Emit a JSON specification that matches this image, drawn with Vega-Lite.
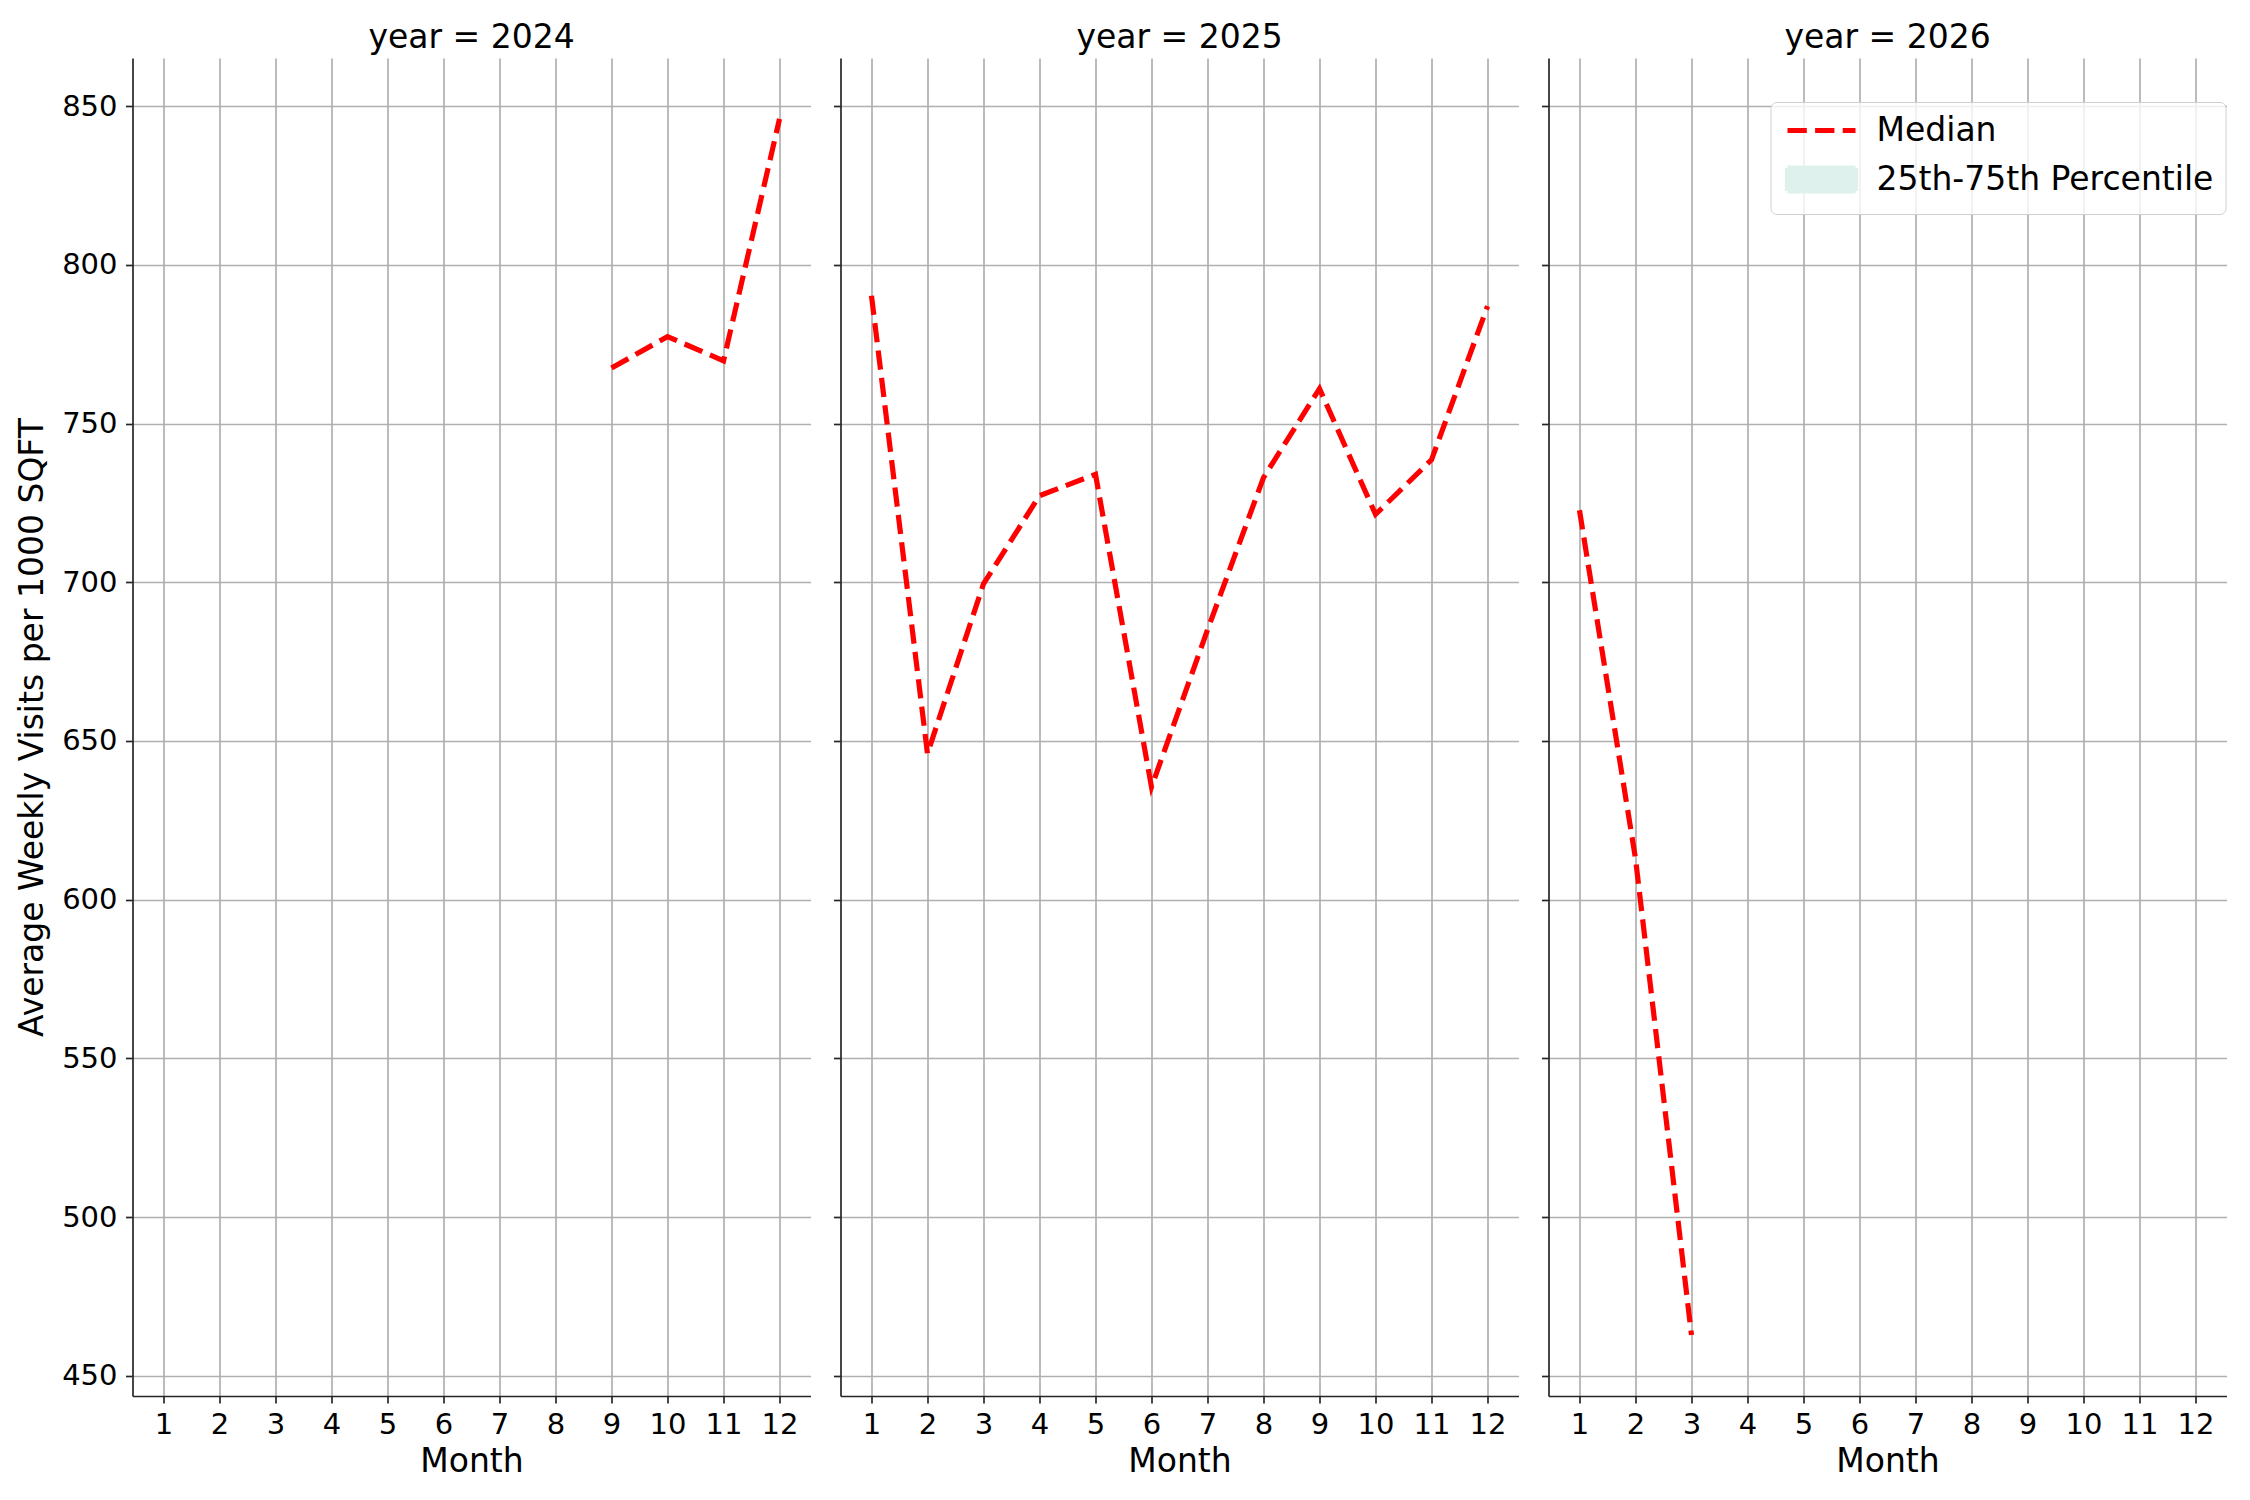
{
  "$schema": "https://vega.github.io/schema/vega-lite/v6.json",
  "background": "white",
  "padding": {"left": 16.5, "top": 22, "right": 5, "bottom": 5},
  "datasets": {
    "visits": [
      {"year": 2024, "month": 9, "median": 767.5},
      {"year": 2024, "month": 10, "median": 777.4},
      {"year": 2024, "month": 11, "median": 769.8},
      {"year": 2024, "month": 12, "median": 846.0},
      {"year": 2025, "month": 1, "median": 790.3},
      {"year": 2025, "month": 2, "median": 646.0},
      {"year": 2025, "month": 3, "median": 699.5},
      {"year": 2025, "month": 4, "median": 727.3},
      {"year": 2025, "month": 5, "median": 734.0},
      {"year": 2025, "month": 6, "median": 635.5},
      {"year": 2025, "month": 7, "median": 685.0},
      {"year": 2025, "month": 8, "median": 733.0},
      {"year": 2025, "month": 9, "median": 761.0},
      {"year": 2025, "month": 10, "median": 721.4},
      {"year": 2025, "month": 11, "median": 738.6},
      {"year": 2025, "month": 12, "median": 787.0},
      {"year": 2026, "month": 1, "median": 722.7},
      {"year": 2026, "month": 2, "median": 613.0},
      {"year": 2026, "month": 3, "median": 462.8}
    ]
  },
  "config": {
    "view": {"stroke": null},
    "font": "DejaVu Sans",
    "axis": {
      "labelFont": "DejaVu Sans",
      "labelFontSize": 29,
      "labelColor": "black",
      "titleFont": "DejaVu Sans",
      "titleFontSize": 33,
      "titleFontWeight": "normal",
      "titleColor": "black",
      "domainColor": "#262626",
      "domainWidth": 1.7,
      "tickColor": "#262626",
      "tickWidth": 1.7,
      "tickSize": 7,
      "grid": true,
      "gridColor": "#b0b0b0",
      "gridWidth": 1.7,
      "labelFlush": false,
      "labelOverlap": false
    },
    "axisX": {"labelPadding": 7, "titlePadding": 6},
    "axisY": {"labelPadding": 8.5, "titlePadding": 12},
    "title": {
      "font": "DejaVu Sans",
      "fontSize": 33,
      "fontWeight": "normal",
      "color": "black",
      "anchor": "middle",
      "baseline": "alphabetic",
      "offset": 3
    },
    "legend": {
      "labelFont": "DejaVu Sans",
      "labelFontSize": 33,
      "labelColor": "black",
      "labelLimit": 600
    }
  },
  "bounds": "flush",
  "spacing": 30,
  "resolve": {"scale": {"color": "independent"}, "legend": {"color": "independent"}},
  "hconcat": [
    {
      "title": "year = 2024",
      "width": 678,
      "height": 1338,
      "data": {"name": "visits"},
      "transform": [{"filter": "datum.year == 2024"}],
      "mark": {"type": "line", "color": "red", "strokeWidth": 5.2, "strokeDash": [19.3, 8.3]},
      "encoding": {
        "x": {
          "field": "month", "type": "quantitative",
          "scale": {"domain": [0.447, 12.553], "nice": false, "zero": false},
          "axis": {"values": [1, 2, 3, 4, 5, 6, 7, 8, 9, 10, 11, 12], "format": "d", "title": "Month"}
        },
        "y": {
          "field": "median", "type": "quantitative",
          "scale": {"domain": [443.6, 865.2], "nice": false, "zero": false},
          "axis": {"values": [450, 500, 550, 600, 650, 700, 750, 800, 850], "format": "d", "title": "Average Weekly Visits per 1000 SQFT"}
        }
      }
    },
    {
      "title": "year = 2025",
      "width": 678,
      "height": 1338,
      "data": {"name": "visits"},
      "transform": [{"filter": "datum.year == 2025"}],
      "mark": {"type": "line", "color": "red", "strokeWidth": 5.2, "strokeDash": [19.3, 8.3]},
      "encoding": {
        "x": {
          "field": "month", "type": "quantitative",
          "scale": {"domain": [0.447, 12.553], "nice": false, "zero": false},
          "axis": {"values": [1, 2, 3, 4, 5, 6, 7, 8, 9, 10, 11, 12], "format": "d", "title": "Month"}
        },
        "y": {
          "field": "median", "type": "quantitative",
          "scale": {"domain": [443.6, 865.2], "nice": false, "zero": false},
          "axis": {"values": [450, 500, 550, 600, 650, 700, 750, 800, 850], "labels": false, "title": null}
        }
      }
    },
    {
      "title": "year = 2026",
      "width": 678,
      "height": 1338,
      "data": {"name": "visits"},
      "transform": [{"filter": "datum.year == 2026"}],
      "encoding": {
        "x": {
          "field": "month", "type": "quantitative",
          "scale": {"domain": [0.447, 12.553], "nice": false, "zero": false},
          "axis": {"values": [1, 2, 3, 4, 5, 6, 7, 8, 9, 10, 11, 12], "format": "d", "title": "Month"}
        }
      },
      "layer": [
        {
          "mark": {"type": "area"},
          "encoding": {
            "y": {
              "field": "q25", "type": "quantitative",
              "scale": {"domain": [443.6, 865.2], "nice": false, "zero": false},
              "axis": {"values": [450, 500, 550, 600, 650, 700, 750, 800, 850], "labels": false, "title": null}
            },
            "y2": {"field": "q75"},
            "color": {"datum": "25th-75th Percentile"}
          }
        },
        {
          "mark": {"type": "line", "strokeWidth": 5.2, "strokeDash": [19.3, 8.3]},
          "encoding": {
            "y": {
              "field": "median", "type": "quantitative",
              "scale": {"domain": [443.6, 865.2], "nice": false, "zero": false},
              "axis": {"values": [450, 500, 550, 600, 650, 700, 750, 800, 850], "labels": false, "title": null}
            },
            "color": {
              "datum": "Median",
              "scale": {"domain": ["Median", "25th-75th Percentile"], "range": ["red", "#dff1ec"]},
              "legend": {
                "title": null,
                "orient": "none",
                "legendX": 222,
                "legendY": 44,
                "symbolSize": 529,
                "symbolStrokeWidth": 5.2,
                "labelOffset": 61,
                "rowPadding": 9,
                "padding": 12,
                "strokeColor": "#d0d0d0",
                "fillColor": "rgba(255,255,255,0.8)",
                "cornerRadius": 6,
                "encode": {
                  "symbols": {
                    "update": {
                      "shape": [{"test": "datum.value === 'Median'", "value": "M-1,0H4.913"}, {"value": "M-1,-1H4.913V1H-1Z"}],
                      "fill": [{"test": "datum.value === 'Median'", "value": "transparent"}, {"value": "#dff1ec"}],
                      "stroke": [{"test": "datum.value === 'Median'", "value": "red"}, {"value": "transparent"}],
                      "strokeDash": [{"test": "datum.value === 'Median'", "value": [19.3, 8.3]}, {"value": [1, 0]}],
                      "strokeWidth": {"value": 5.2},
                      "opacity": {"value": 1}
                    }
                  }
                }
              }
            }
          }
        }
      ]
    }
  ]
}
